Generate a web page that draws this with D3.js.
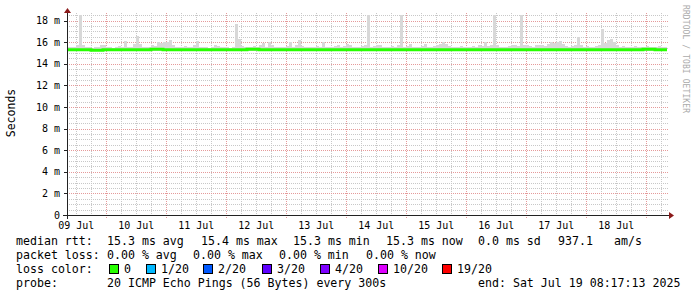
<!DOCTYPE html>
<html>
<head>
<meta charset="utf-8">
<script src="https://cdn.jsdelivr.net/npm/d3@7"></script>
<style>
  body { margin: 0; background: #fff; }
  svg { display: block; }
  text { font-family: "DejaVu Sans Mono", monospace; }
</style>
</head>
<body>
<div id="chart"></div>
<script>
// 10 days ending at the probe time, 200 smoke buckets (72 min each)
const endTime = new Date(Date.UTC(2025, 6, 19, 8, 17, 13));
const startTime = new Date(endTime.getTime() - 10 * 86400 * 1000);

// highest ping per bucket (ms)
const smokeMax = [
  15.6, 15.55, 15.6, 15.7, 18.7, 15.7, 15.6, 15.55, 15.5, 15.55, 15.6, 15.7, 15.75, 15.6, 15.55, 15.5, 15.6, 15.65, 15.6, 16.1,
  15.6, 15.55, 15.8, 16.6, 15.8, 15.6, 15.55, 15.6, 15.7, 15.65, 16.0, 15.9, 16.0, 16.0, 16.2, 15.7, 15.6, 15.55, 15.6, 15.65,
  15.6, 15.55, 15.7, 16.1, 15.6, 15.55, 15.6, 15.5, 15.55, 15.7, 15.65, 15.6, 15.55, 15.6, 15.5, 15.6, 17.7, 16.3, 15.65, 15.6,
  15.6, 15.55, 15.65, 15.6, 15.7, 15.9, 15.6, 16.0, 15.7, 15.6, 15.55, 15.6, 15.6, 15.65, 16.0, 15.6, 15.7, 16.2, 15.65, 15.6,
  15.6, 15.55, 15.6, 15.65, 15.6, 16.0, 15.6, 15.55, 15.6, 15.65, 15.7, 15.6, 15.65, 15.8, 15.7, 15.6, 15.55, 15.6, 15.65, 15.7,
  18.7, 15.6, 15.65, 15.75, 15.7, 15.6, 15.55, 15.6, 15.65, 15.6, 15.7, 18.7, 15.6, 15.65, 15.85, 15.6, 15.55, 15.6, 15.65, 15.8,
  15.6, 15.55, 15.65, 15.75, 15.8, 16.0, 15.8, 15.65, 15.6, 15.55, 15.6, 15.65, 15.6, 15.55, 15.6, 15.65, 15.6, 15.7, 15.65, 16.0,
  15.65, 15.7, 18.7, 15.7, 15.6, 15.55, 15.6, 15.65, 15.7, 15.7, 15.65, 18.7, 15.75, 15.7, 15.65, 15.6, 15.7, 15.75, 15.7, 15.65,
  15.8, 16.0, 15.9, 16.0, 16.1, 15.8, 15.65, 15.6, 15.65, 15.7, 16.5, 15.7, 15.6, 15.65, 15.6, 15.6, 15.65, 15.7, 17.2, 15.9,
  16.2, 16.3, 16.0, 15.7, 15.6, 15.65, 15.6, 15.55, 15.6, 15.65, 15.6, 15.55, 15.6, 15.65, 15.6, 15.55, 15.6, 15.65, 15.6, 15.55
];
const smokeFloor = 15.15;

// median rtt, 50 points (4.8 h each)
const median = [
  15.3, 15.3, 15.25, 15.3, 15.3, 15.3, 15.3, 15.35, 15.3, 15.3,
  15.3, 15.3, 15.3, 15.3, 15.3, 15.35, 15.3, 15.3, 15.3, 15.3,
  15.3, 15.3, 15.3, 15.3, 15.3, 15.3, 15.3, 15.3, 15.3, 15.3,
  15.3, 15.3, 15.3, 15.3, 15.3, 15.3, 15.3, 15.3, 15.3, 15.3,
  15.3, 15.3, 15.3, 15.3, 15.3, 15.3, 15.3, 15.3, 15.35, 15.3
];

const yTicks = [0, 2, 4, 6, 8, 10, 12, 14, 16, 18];
const yTickLabels = ["0", "2 m", "4 m", "6 m", "8 m", "10 m", "12 m", "14 m", "16 m", "18 m"];
const xTickLabels = ["09 Jul", "10 Jul", "11 Jul", "12 Jul", "13 Jul", "14 Jul", "15 Jul", "16 Jul", "17 Jul", "18 Jul"];

const rttLegend = ["median rtt:", "15.3 ms avg", "15.4 ms max", "15.3 ms min", "15.3 ms now", "0.0 ms sd", "937.1", "am/s"];
const lossLegend = ["packet loss:", "0.00 % avg", "0.00 % max", "0.00 % min", "0.00 % now"];
const lossNames = ["0", "1/20", "2/20", "3/20", "4/20", "10/20", "19/20"];
const lossColors = ["#26ff00", "#00b8ff", "#0059ff", "#5e00ff", "#7e00ff", "#dd00ff", "#ff0000"];
const probeLegend = ["probe:", "20 ICMP Echo Pings (56 Bytes) every 300s", "end: Sat Jul 19 08:17:13 2025"];

const width = 697, height = 297;
const pLeft = 67, pRight = 667, pTop = 15, pBottom = 215;

const svg = d3.select("#chart").append("svg")
  .attr("width", width)
  .attr("height", height);

svg.append("rect").attr("width", width).attr("height", height).attr("fill", "#fff");

const x = d3.scaleUtc().domain([startTime, endTime]).range([pLeft, pRight]);
const y = d3.scaleLinear().domain([0, 18.52]).range([pBottom, pTop]);

svg.append("defs").append("clipPath").attr("id", "plot")
  .append("rect").attr("x", pLeft).attr("y", pTop).attr("width", pRight - pLeft).attr("height", pBottom - pTop);

// grid
const grid = svg.append("g").attr("shape-rendering", "crispEdges");
const minorY = d3.range(0, 18.51, 0.5).filter((v) => v % 2 !== 0);
grid.selectAll(".hmin").data(minorY).enter().append("line")
  .attr("x1", pLeft).attr("x2", pRight + 2)
  .attr("y1", (d) => Math.round(y(d)) + 0.5).attr("y2", (d) => Math.round(y(d)) + 0.5)
  .attr("stroke", "#c8c8c8").attr("stroke-dasharray", "1,1");
const minorX = d3.utcHour.every(6).range(startTime, endTime).filter((d) => d.getUTCHours() !== 0);
grid.selectAll(".vmin").data(minorX).enter().append("line")
  .attr("x1", (d) => Math.round(x(d)) + 0.5).attr("x2", (d) => Math.round(x(d)) + 0.5)
  .attr("y1", pTop - 2).attr("y2", pBottom)
  .attr("stroke", "#c8c8c8").attr("stroke-dasharray", "1,1");
grid.selectAll(".hmaj").data(yTicks.slice(1)).enter().append("line")
  .attr("x1", pLeft).attr("x2", pRight + 2)
  .attr("y1", (d) => Math.round(y(d)) + 0.5).attr("y2", (d) => Math.round(y(d)) + 0.5)
  .attr("stroke", "#e59a9a").attr("stroke-dasharray", "1,1");
const majorX = d3.utcDay.range(startTime, endTime);
grid.selectAll(".vmaj").data(majorX).enter().append("line")
  .attr("x1", (d) => Math.round(x(d)) + 0.5).attr("x2", (d) => Math.round(x(d)) + 0.5)
  .attr("y1", pTop - 2).attr("y2", pBottom + 3)
  .attr("stroke", "#e59a9a").attr("stroke-dasharray", "1,1");

// smoke
const step = (endTime - startTime) / smokeMax.length;
const plot = svg.append("g").attr("clip-path", "url(#plot)");
plot.selectAll(".smoke").data(smokeMax).enter().append("rect")
  .attr("x", (d, i) => x(new Date(+startTime + i * step)))
  .attr("width", (d, i) => x(new Date(+startTime + (i + 1) * step)) - x(new Date(+startTime + i * step)))
  .attr("y", (d) => y(d))
  .attr("height", (d) => y(smokeFloor) - y(d))
  .attr("fill", "#d8d8d8")
  .attr("shape-rendering", "crispEdges");

// median line
const mStep = (endTime - startTime) / median.length;
const medPts = median.map((v, i) => [new Date(+startTime + i * mStep), v]);
medPts.push([endTime, median[median.length - 1]]);
plot.append("path")
  .datum(medPts)
  .attr("d", d3.line().x((d) => x(d[0])).y((d) => y(d[1])).curve(d3.curveStepAfter))
  .attr("fill", "none")
  .attr("stroke", lossColors[0])
  .attr("stroke-width", 3);

// axes
const axisCol = "#222";
const arrowCol = "#8b1a1a";
svg.append("line").attr("x1", pLeft - 4).attr("x2", pRight + 3).attr("y1", pBottom + 0.5).attr("y2", pBottom + 0.5)
  .attr("stroke", axisCol);
svg.append("line").attr("x1", pLeft + 0.5).attr("x2", pLeft + 0.5).attr("y1", pBottom + 4).attr("y2", pTop - 3)
  .attr("stroke", axisCol);
svg.append("path").attr("d", `M${pRight + 2},${pBottom - 3}L${pRight + 7},${pBottom + 0.5}L${pRight + 2},${pBottom + 4}Z`)
  .attr("fill", arrowCol);
svg.append("path").attr("d", `M${pLeft - 3},${pTop - 2}L${pLeft + 0.5},${pTop - 7}L${pLeft + 4},${pTop - 2}Z`)
  .attr("fill", arrowCol);

// y ticks & labels
svg.selectAll(".ytick").data(yTicks).enter().append("line")
  .attr("x1", pLeft - 3).attr("x2", pLeft)
  .attr("y1", (d) => Math.round(y(d)) + 0.5).attr("y2", (d) => Math.round(y(d)) + 0.5)
  .attr("stroke", axisCol);
svg.selectAll(".ylab").data(yTicks).enter().append("text")
  .attr("x", 60).attr("y", (d) => y(d) + 3.5)
  .attr("text-anchor", "end")
  .attr("font-size", 10)
  .attr("fill", "#000")
  .text((d, i) => yTickLabels[i]);

// x labels at noon
svg.selectAll(".xlab").data(xTickLabels).enter().append("text")
  .attr("x", (d, i) => x(d3.utcHour.offset(d3.utcDay.offset(d3.utcDay.floor(startTime), i), 12)))
  .attr("y", 229)
  .attr("text-anchor", "middle")
  .attr("font-size", 10)
  .attr("fill", "#000")
  .text((d) => d);

svg.append("text")
  .attr("transform", "translate(15,113) rotate(-90)")
  .attr("text-anchor", "middle")
  .attr("font-size", 11.5)
  .attr("fill", "#000")
  .text("Seconds");

svg.append("text")
  .attr("transform", "translate(683,5) rotate(90)")
  .attr("font-size", 8)
  .attr("fill", "#aaa")
  .attr("textLength", 108)
  .text("RRDTOOL / TOBI OETIKER");

// legend
const lg = svg.append("g").attr("font-size", 11.6).attr("fill", "#000").attr("xml:space", "preserve");
const rttX = [16, 107, 201, 293, 386, 478, 558, 614];
lg.selectAll(".rtt").data(rttLegend).enter().append("text")
  .attr("x", (d, i) => rttX[i]).attr("y", 245).text((d) => d);
const lossX = [16, 107, 193, 279, 366];
lg.selectAll(".loss").data(lossLegend).enter().append("text")
  .attr("x", (d, i) => lossX[i]).attr("y", 259).text((d) => d);
lg.append("text").attr("x", 16).attr("y", 273).text("loss color:");
const boxX = [109, 146, 203, 262, 320, 378, 442];
lg.selectAll(".box").data(lossColors).enter().append("rect")
  .attr("x", (d, i) => boxX[i] + 0.5).attr("y", 264.5).attr("width", 9).attr("height", 9)
  .attr("fill", (d) => d).attr("stroke", "#000");
lg.selectAll(".lname").data(lossNames).enter().append("text")
  .attr("x", (d, i) => boxX[i] + 15).attr("y", 273).text((d) => d);
const probeX = [16, 107, 478];
lg.selectAll(".probe").data(probeLegend).enter().append("text")
  .attr("x", (d, i) => probeX[i]).attr("y", 287).text((d) => d);
</script>
</body>
</html>
